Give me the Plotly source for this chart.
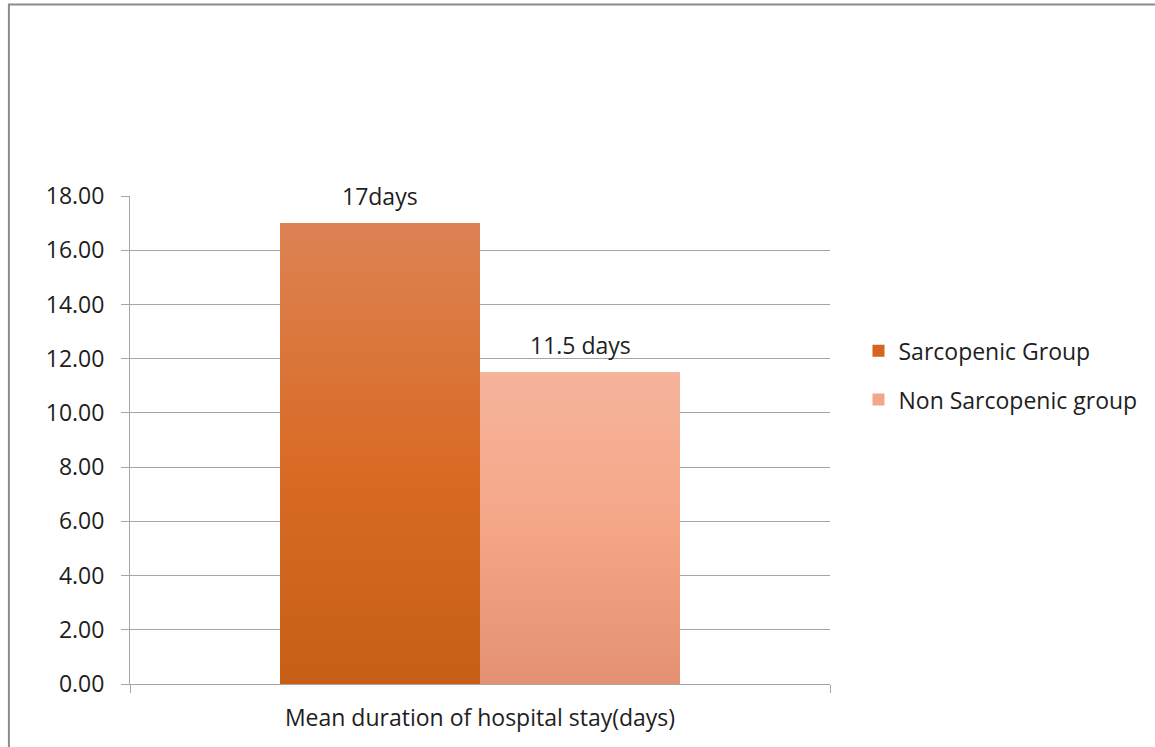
import plotly.graph_objects as go

# Chart data
category = "Mean duration of hospital stay(days)"
groups = ["Sarcopenic Group", "Non Sarcopenic group"]
mean_days = [17, 11.5]
value_labels = ["17days", "11.5 days"]
y_ticks = [0, 2, 4, 6, 8, 10, 12, 14, 16, 18]

# Styling: (bottom, middle, top) gradient stops and the legend swatch colour
gradients = [("#C75F16", "#D96C27", "#DD8254"), ("#E39172", "#F5A687", "#F5B49B")]
swatch = ["#D5651F", "#F2A78A"]
bar_width = 2 / 7
offsets = [-bar_width, 0.0]

FONT = "Open Sans"
FSIZE = 23
TEXT = "#1E1E1E"
GRID = "#A6A6A6"

fig = go.Figure()

for name, val, col, off in zip(groups, mean_days, swatch, offsets):
    fig.add_trace(go.Bar(
        x=[category], y=[val], name=name, width=bar_width, offset=off,
        marker=dict(color=col, line=dict(width=0)), legendgroup=name,
        hoverinfo="y+name",
    ))

# Vertical gradient fill laid over each bar, same footprint as the bar
for name, val, grad, off in zip(groups, mean_days, gradients, offsets):
    x0, x1 = off, off + bar_width
    fig.add_trace(go.Scatter(
        x=[x0, x0, x1, x1, x0], y=[0, val, val, 0, 0], xaxis="x2",
        mode="lines", line=dict(width=0), fill="toself",
        fillgradient=dict(type="vertical",
                          colorscale=[[0, grad[0]], [0.5, grad[1]], [1, grad[2]]]),
        showlegend=False, hoverinfo="skip",
    ))

# Value labels above each bar
for val, lab, off in zip(mean_days, value_labels, offsets):
    fig.add_annotation(
        x=off + bar_width / 2, y=val, xref="x2", yref="y", text=lab,
        showarrow=False, yanchor="bottom", yshift=9,
        font=dict(family=FONT, size=FSIZE, color=TEXT),
    )

# Outer chart frame
fig.add_shape(type="rect", xref="paper", yref="paper",
              x0=-0.173, x1=1.48, y0=-0.2, y1=1.3925,
              line=dict(color="#8C8C8C", width=2), fillcolor="rgba(0,0,0,0)")

fig.update_layout(
    width=1155, height=747,
    margin=dict(l=130, r=325, t=196, b=63),
    paper_bgcolor="white", plot_bgcolor="white",
    barmode="group",
    font=dict(family=FONT, size=FSIZE, color=TEXT),
    showlegend=True,
    legend=dict(x=1.0407, y=0.727, xanchor="left", yanchor="top",
                traceorder="grouped", tracegroupgap=16,
                font=dict(family=FONT, size=FSIZE, color=TEXT),
                itemwidth=30, bgcolor="rgba(0,0,0,0)"),
    xaxis=dict(type="category", range=[-0.5, 0.5], showline=True,
               linecolor=GRID, linewidth=1, ticks="outside", ticklen=8,
               tickcolor=GRID, tickson="boundaries", showgrid=False,
               ticklabelstandoff=13,
               tickfont=dict(family=FONT, size=FSIZE, color=TEXT), fixedrange=True),
    xaxis2=dict(overlaying="x", range=[-0.5, 0.5], visible=False,
                fixedrange=True),
    yaxis=dict(range=[0, 18], tickvals=y_ticks, tickformat=".2f",
               showline=True, linecolor=GRID, linewidth=1, ticks="outside",
               ticklen=8, tickcolor=GRID, showgrid=True, gridcolor=GRID,
               gridwidth=1, zeroline=False, ticklabelstandoff=12,
               tickfont=dict(family=FONT, size=FSIZE, color=TEXT), fixedrange=True),
)

fig.write_html("out.html")
